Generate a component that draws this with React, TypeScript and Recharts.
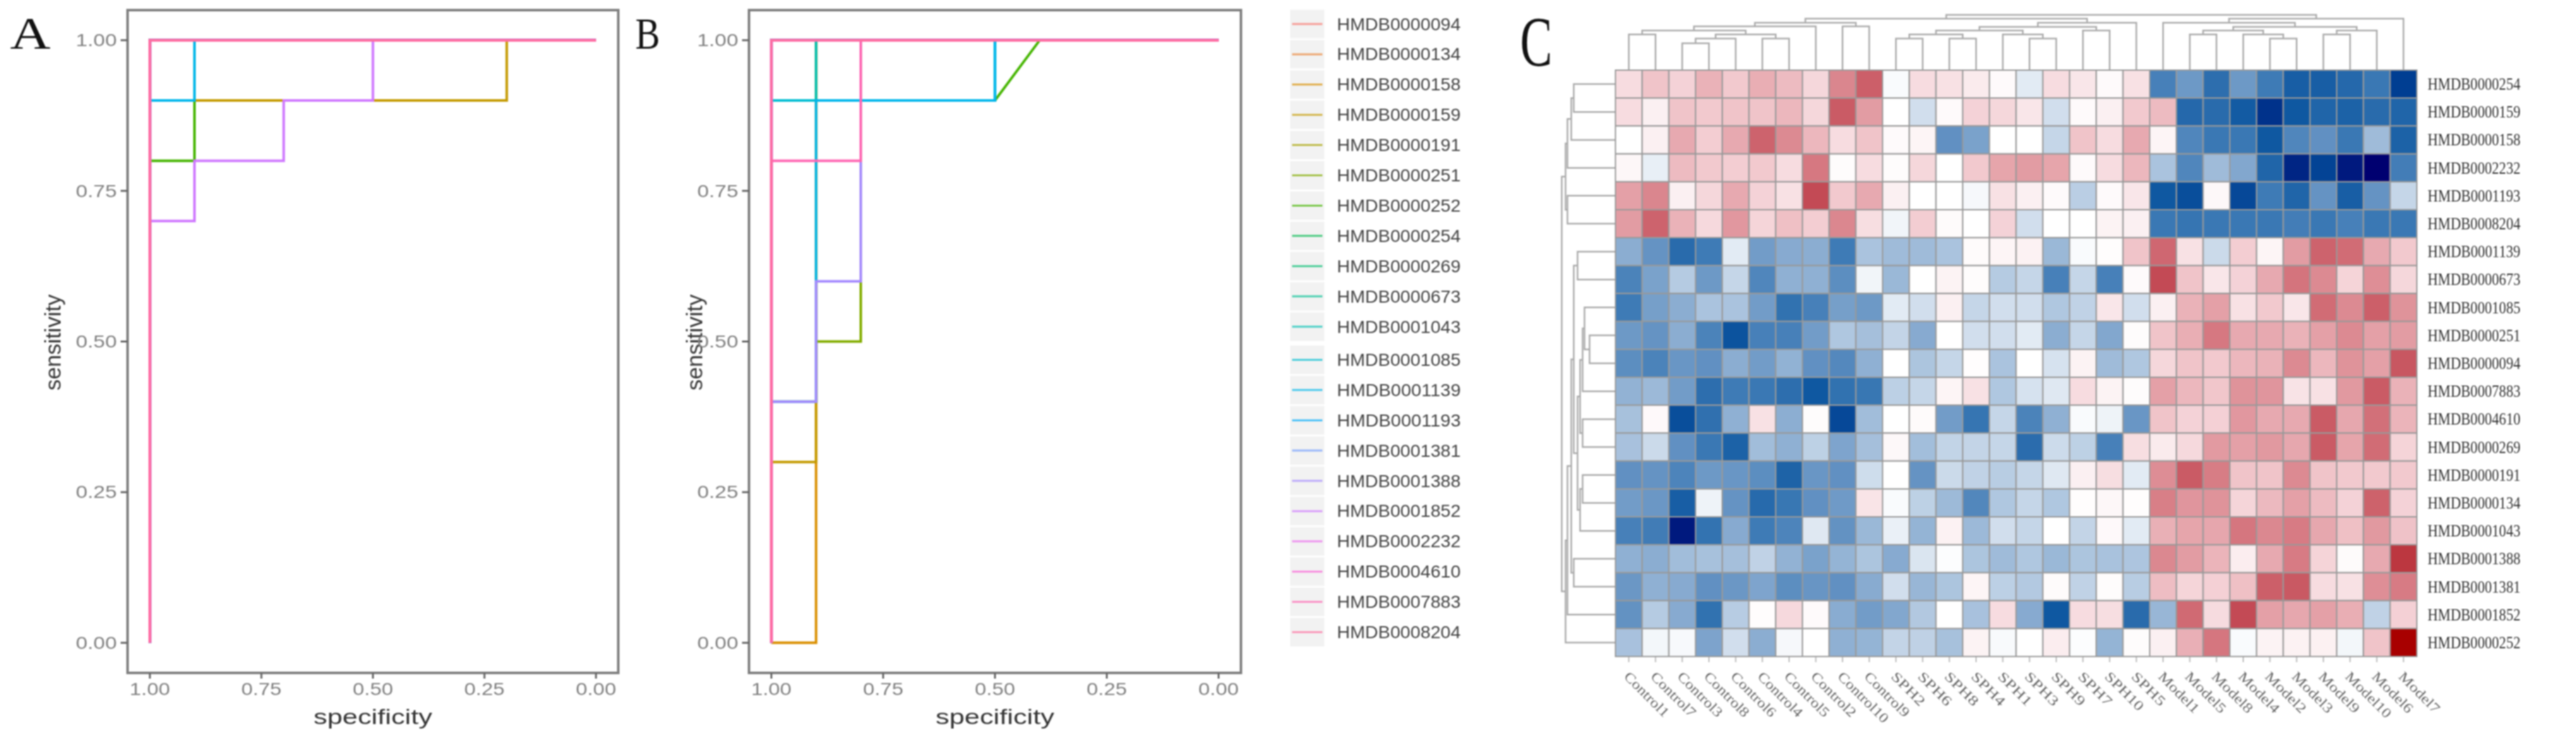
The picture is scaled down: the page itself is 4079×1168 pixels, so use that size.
import React from "react";
import {
  LineChart, Line, XAxis, YAxis, ReferenceArea, Legend, ScatterChart, Scatter, ComposedChart,
} from "recharts";

// ---------- ROC panels ----------
const seriesNames = [
  "HMDB0000094", "HMDB0000134", "HMDB0000158", "HMDB0000159", "HMDB0000191", "HMDB0000251", "HMDB0000252",
  "HMDB0000254", "HMDB0000269", "HMDB0000673", "HMDB0001043", "HMDB0001085", "HMDB0001139", "HMDB0001193",
  "HMDB0001381", "HMDB0001388", "HMDB0001852", "HMDB0002232", "HMDB0004610", "HMDB0007883", "HMDB0008204",
];
const seriesColors = [
  "#F8766D", "#EB8335", "#DA8F00", "#C49A00", "#A8A400", "#83AD00", "#45B500", "#00BB4E", "#00BE70", "#00C094",
  "#00C0B5", "#00BDD2", "#00B6EB", "#00ACFC", "#6E9BFF", "#A58AFF", "#CF78FF", "#EC69EF", "#FB61D7", "#FF65B2", "#FF6FA0",
];
const perfectCurve = [[1, 0], [1, 1], [0, 1]];
const rocA: Record<string, number[][]> = {
  HMDB0000159: [[1, 0], [1, 0.9], [0.2, 0.9], [0.2, 1], [0, 1]],
  HMDB0000252: [[1, 0], [1, 0.8], [0.9, 0.8], [0.9, 1], [0, 1]],
  HMDB0001139: [[1, 0], [1, 0.9], [0.9, 0.9], [0.9, 1], [0, 1]],
  HMDB0001852: [[1, 0], [1, 0.7], [0.9, 0.7], [0.9, 0.8], [0.7, 0.8], [0.7, 0.9], [0.5, 0.9], [0.5, 1], [0, 1]],
};
const rocB: Record<string, number[][]> = {
  HMDB0000158: [[1, 0], [0.9, 0], [0.9, 1], [0, 1]],
  HMDB0000159: [[1, 0], [1, 0.3], [0.9, 0.3], [0.9, 1], [0, 1]],
  HMDB0000251: [[1, 0], [1, 0.4], [0.9, 0.4], [0.9, 0.5], [0.8, 0.5], [0.8, 1], [0, 1]],
  HMDB0000252: [[1, 0], [1, 0.9], [0.5, 0.9], [0.4, 1], [0, 1]],
  HMDB0001043: [[1, 0], [1, 0.9], [0.9, 0.9], [0.9, 1], [0, 1]],
  HMDB0001085: [[1, 0], [1, 0.9], [0.5, 0.9], [0.5, 1], [0, 1]],
  HMDB0001139: [[1, 0], [1, 0.4], [0.9, 0.4], [0.9, 0.9], [0.5, 0.9], [0.5, 1], [0, 1]],
  HMDB0001388: [[1, 0], [1, 0.4], [0.9, 0.4], [0.9, 0.6], [0.8, 0.6], [0.8, 1], [0, 1]],
  HMDB0007883: [[1, 0], [1, 0.8], [0.8, 0.8], [0.8, 1], [0, 1]],
};
const rocTicks = [0, 0.25, 0.5, 0.75, 1];

// ---------- Heat map ----------
const colLabels = [
  "Control1", "Control7", "Control3", "Control8", "Control6", "Control4", "Control5", "Control2", "Control10", "Control9",
  "SPH2", "SPH6", "SPH8", "SPH4", "SPH1", "SPH3", "SPH9", "SPH7", "SPH10", "SPH5",
  "Model1", "Model5", "Model8", "Model4", "Model2", "Model3", "Model9", "Model10", "Model6", "Model7",
];
const rowLabels = [
  "HMDB0000254", "HMDB0000159", "HMDB0000158", "HMDB0002232", "HMDB0001193", "HMDB0008204", "HMDB0001139",
  "HMDB0000673", "HMDB0001085", "HMDB0000251", "HMDB0000094", "HMDB0007883", "HMDB0004610", "HMDB0000269",
  "HMDB0000191", "HMDB0000134", "HMDB0001043", "HMDB0001388", "HMDB0001381", "HMDB0001852", "HMDB0000252",
];
const heatValues = [
  [1.35, 1.6, 1.45, 1.8, 1.55, 1.85, 1.7, 1.4, 2.3, 2.75, 0.95, 1.35, 1.3, 1.2, 1.05, 0.75, 1.35, 1.25, 1.05, 1.3, -0.85, -0.4, -1.15, -0.4, -0.95, -1.4, -1.4, -1.25, -1, -1.75],
  [1.35, 1.15, 1.6, 1.55, 1.6, 1.6, 1.75, 1.4, 2.8, 2.05, 1, 0.6, 1.05, 1.45, 1.4, 1.25, 0.6, 1.05, 1.15, 1.55, 1.7, -1.25, -1.2, -1.45, -1.8, -1.5, -1.3, -1.35, -1.2, -1.3],
  [1, 1.15, 1.9, 1.5, 1.9, 2.7, 2.25, 1.75, 1.35, 1.6, 1.05, 1.1, -0.55, -0.25, 1, 1, 0.5, 1.6, 1.35, 1.9, 1.1, -0.75, -1, -1, -1.5, -0.75, -0.55, -1, 0.15, -1.35],
  [1.08, 0.8, 1.7, 1.55, 1.5, 1.55, 1.35, 2.45, 1.03, 1.35, 1.03, 1.4, 1, 1.55, 1.95, 2.05, 1.95, 1.05, 1.35, 1.75, 0.25, -0.75, 0.15, -0.15, -1.3, -1.85, -1.7, -1.9, -2, -0.9],
  [2, 2.3, 1.15, 1.4, 1.9, 1.45, 1.3, 3, 1.55, 1.9, 1.15, 1, 1, 0.92, 1.3, 1.15, 1.05, 0.4, 1.05, 1.25, -1.5, -1.6, 1.07, -1.65, -0.95, -1.3, -0.5, -1.4, -0.5, 0.5],
  [2.05, 2.7, 1.8, 1.38, 2.1, 1.42, 1.65, 1.5, 2.28, 1.33, 0.88, 1.5, 1.04, 1, 1.45, 0.6, 1, 1, 1.12, 1.15, -1, -1.05, -1, -1, -1, -0.9, -1, -0.85, -1, -1],
  [-0.05, -0.5, -1.2, -0.95, 0.75, -0.35, -0.1, -0.05, -0.95, 0.25, 0.15, 0.15, 0.25, 1.04, 1.1, 1.13, 0.1, 0.95, 1.02, 1.6, 2.65, 1.3, 0.55, 1.5, 1.1, 2.05, 2.7, 2.6, 1.9, 1.55],
  [-0.8, -0.25, 0.35, -0.4, 0.5, -0.75, 0, 0, -0.6, 0.88, 0.1, 1, 1.12, 1.03, 0.35, 0.5, -0.85, 0.5, -0.85, 1.05, 3, 1.6, 1.25, 1.45, 1.9, 2.5, 2.25, 1.43, 2.2, 1.4],
  [-0.95, -0.3, -0.05, 0.25, 0.25, -0.35, -1.1, -0.85, -0.3, -0.4, 0.75, 0.6, 1.15, 0.5, 0.6, 0.6, 0.3, 0.45, 1.25, 0.6, 1.15, 1.8, 2, 1.3, 1.55, 1.25, 2.6, 2.25, 2.75, 2.15],
  [-0.4, -0.5, -0.05, -0.8, -1.55, -0.85, -0.85, -0.35, 0.3, 0.2, 0.48, -0.1, 1, 0.6, 0.6, 0.75, -0.05, 0.5, -0.15, 1.03, 1.6, 1.85, 2.45, 1.9, 1.9, 1.8, 2, 2.25, 2, 2.05],
  [-0.6, -0.8, -0.45, -0.55, -0.05, -0.35, 0.02, -0.55, -0.7, 0, 1, 0.27, 0.5, 1.02, 0.25, 1, 0.65, 1.12, 0.15, 0.3, 1.4, 1.6, 1.55, 1.75, 1.8, 2.25, 1.75, 2.15, 2, 2.85],
  [0.03, 0.12, -0.35, -1.15, -0.95, -1, -1.15, -1.5, -1.1, -1.02, 0.42, 0.5, 1.1, 1.3, 0.3, 0.65, 0.72, 1.35, 1.12, 1.03, 2, 1.75, 1.58, 2.15, 2.12, 1.28, 1.3, 2.08, 2.8, 1.8],
  [0.22, 1.06, -1.6, -1.12, 0, 1.3, -0.03, 1.03, -1.65, 0.17, 1, 1.04, -0.35, -1.05, 0.5, -0.8, 0, 0.95, 0.85, -0.45, 1.6, 1.45, 1.47, 2.1, 1.9, 1.9, 2.8, 1.92, 2.55, 1.78],
  [0.23, 0.55, -0.55, -1, -1.35, 0.17, 0, 0.43, -0.2, 0.2, 1.07, 0.18, 0.47, 0.48, 0.5, -1.18, 0.56, 0.43, -0.85, 1.33, 1.2, 1.38, 2.07, 2, 2.08, 1.92, 2.8, 1.95, 2.6, 1.43],
  [-0.55, -0.5, -0.78, -0.4, -0.45, -0.6, -1.33, -0.45, -0.55, 0.58, 1, -0.5, 0.55, 0.45, 0.38, 0.5, 0.72, 1.15, 1.33, 0.75, 2.22, 2.8, 2.4, 1.6, 1.6, 2.25, 1.6, 1.55, 1.55, 1.55],
  [-0.35, -0.43, -1.4, 0.85, -0.5, -1.22, -1.02, -0.55, -0.38, 1.27, 0.95, 0.43, 0.13, -0.72, 0.3, 0.5, 0.3, 1.02, 1.08, 1.02, 2.38, 2.12, 2.15, 1.42, 1.72, 2, 1.7, 1.45, 2.72, 1.45],
  [-0.85, -0.92, -1.9, -1.08, -0.1, -0.95, -0.78, 0.72, -0.52, 0.1, 0.82, 0.05, 1.13, 0.12, 0.6, 0.5, 1, 0.48, 1.06, 0.75, 1.82, 1.95, 1.93, 2.48, 2.27, 2.42, 1.92, 1.65, 2.08, 1.62],
  [0, -0.05, 0.17, 0.22, 0.2, 0.45, 0.03, -0.25, 0.05, 0.27, -0.1, 0.68, 0.97, 0.27, 0.15, 0.3, 0.1, 0.27, 0.24, 0.28, 2.27, 2.05, 1.78, 1.18, 1.9, 2.42, 1.43, 1.04, 1.9, 3.1],
  [-0.43, 0, -0.1, -0.55, -0.43, -0.2, -0.6, -0.47, -0.55, -0.08, 0.6, 0.08, 0.27, 1.1, 0.42, 0.33, 1.04, 0.45, 1.03, 0.38, 1.68, 1.42, 1.47, 1.65, 2.75, 2.82, 1.35, 1.3, 2.2, 2.42],
  [-0.52, 0.35, -0.1, -1.1, 0.37, 1.02, 1.38, 1.05, -0.07, -0.35, -0.15, 0.32, 1, 0.23, 1.35, -0.1, -1.5, 1.35, 1.33, -1.2, 0.08, 2.62, 1.36, 3, 2, 1.92, 2, 1.85, 0.45, 1.47],
  [0.23, 0.9, 0.93, -0.22, 0.6, -0.05, 0.92, 1, 0, 0.05, 0.48, 0.44, 0.22, 1.12, 0.94, 1, 1.18, 0.97, 0.05, 1.03, 1.15, 1.83, 2.48, 0.95, 1.12, 1.13, 1.14, 0.9, 1.6, 3.4],
];
const rampStops: [number, string][] = [
  [-2, "#000070"], [-1.75, "#003e92"], [-1.5, "#0f58a1"], [-1, "#3a78b4"], [-0.5, "#6593c3"], [0, "#8fb0d3"],
  [0.5, "#c5d6e8"], [1, "#ffffff"], [1.5, "#f3cdd2"], [2, "#e4a0a7"], [2.5, "#d4747d"], [3, "#c34a55"], [3.4, "#a80000"],
];
const colorbarDomain = [-1.25, 3.28];
const colorbarTicks = [-1, 0, 1, 2, 3];

// Dendrograms: a leaf is a column/row index, a node is [left, right, merge height].
const colTree: any = [
  [
    [[[[0, 1, 56.6], [[[2, 3, 42.5], 4, 50], [5, 6, 50], 56.6], 62.8], 7, 69.3], [8, 9, 69.3], 75],
    [[[[[10, 11, 50], [12, 13, 50], 56.6], [14, [15, 16, 50], 56.6], 62.8], [17, 18, 62.8], 68.5], 19, 75],
    81.5,
  ],
  [
    [20, [[[21, 22, 56.6], [23, [24, 25, 50], 56.6], 62.8], [[26, 27, 56.6], 28, 62.8], 68.5], 75],
    29,
    81.5,
  ],
  87.6,
];
const rowTree: any = [
  [[[[0, 1, 66], 2, 70], 3, 76], [4, 5, 76], 79],
  [
    [
      [
        [
          [6, 7, 60],
          [[[[8, [9, 10, 41], 49], 11, 52], [12, 13, 52], 56], [[14, 15, 52], 16, 56], 60],
          66,
        ],
        [17, 18, 66],
        70,
      ],
      19,
      76,
    ],
    20,
    79,
  ],
  85,
];

type Seg = { a: number; b: number }[];
function walk(node: any, out: Seg[]): { pos: number; h: number } {
  if (typeof node === "number") return { pos: node + 0.5, h: 0 };
  const l = walk(node[0], out);
  const r = walk(node[1], out);
  const h = node[2];
  out.push([{ a: l.pos, b: l.h }, { a: l.pos, b: h }, { a: r.pos, b: h }, { a: r.pos, b: r.h }]);
  return { pos: (l.pos + r.pos) / 2, h };
}
const segsOf = (tree: any) => {
  const out: Seg[] = [];
  walk(tree, out);
  return out;
};

function hexToRgb(h: string) {
  return [1, 3, 5].map((i) => parseInt(h.slice(i, i + 2), 16));
}
function heatColor(v: number) {
  if (v <= rampStops[0][0]) return rampStops[0][1];
  for (let i = 1; i < rampStops.length; i++) {
    if (v <= rampStops[i][0]) {
      const [v0, c0] = rampStops[i - 1];
      const [v1, c1] = rampStops[i];
      const t = (v - v0) / (v1 - v0);
      const a = hexToRgb(c0), b = hexToRgb(c1);
      return `rgb(${a.map((x, k) => Math.round(x + (b[k] - x) * t)).join(",")})`;
    }
  }
  return rampStops[rampStops.length - 1][1];
}

const SANS = "'Liberation Sans', Arial, sans-serif";
const SERIF = "'Liberation Serif', 'Times New Roman', serif";

const xTick = (p: any) => (
  <text x={p.x} y={p.y + 14} textAnchor="middle" dominantBaseline="central" fontFamily={SANS} fontSize={28} fill="#808080"
    textLength={64} lengthAdjust="spacingAndGlyphs">{Number(p.payload.value).toFixed(2)}</text>
);
const yTick = (p: any) => (
  <text x={p.x - 4} y={p.y} textAnchor="end" dominantBaseline="central" fontFamily={SANS} fontSize={28} fill="#808080"
    textLength={65} lengthAdjust="spacingAndGlyphs">{Number(p.payload.value).toFixed(2)}</text>
);
const xTitle = (p: any) => (
  <text x={p.viewBox.x + p.viewBox.width / 2} y={p.viewBox.y + 69} textAnchor="middle" dominantBaseline="central" fontFamily={SANS}
    fontSize={33} fill="#333" textLength={188} lengthAdjust="spacingAndGlyphs">specificity</text>
);
const yTitle = (cx: number, cy: number) => () => (
  <text x={cx} y={cy} transform={`rotate(-90 ${cx} ${cy})`} textAnchor="middle" dominantBaseline="central" fontFamily={SANS}
    fontSize={35} fill="#333" textLength={152} lengthAdjust="spacingAndGlyphs">sensitivity</text>
);

const legendRowY = (i: number) => 38 + i * 47.9 + (i >= 11 ? 4.5 : 0);
const LegendContent = (props: any) => (
  <svg width={365} height={1168} style={{ display: "block" }}>
    {(props.payload || []).map((e: any, i: number) => (
      <g key={e.value}>
        <rect x={1053 - 975} y={legendRowY(i) - 22.5} width={54} height={45} fill="#f2f2f2" />
        <line x1={1056 - 975} x2={1104 - 975} y1={legendRowY(i)} y2={legendRowY(i)} stroke={e.color} strokeWidth={3} strokeOpacity={0.7} />
        <text x={1127 - 975} y={legendRowY(i)} dominantBaseline="central" fontFamily={SANS} fontSize={28} fill="#444"
          textLength={196} lengthAdjust="spacingAndGlyphs">{e.value}</text>
      </g>
    ))}
  </svg>
);

function RocChart(props: { left: number; width: number; axisWidth: number; marginRight: number; curves: Record<string, number[][]>; titleX: number; withLegend?: boolean }) {
  const { left, width, axisWidth, marginRight, curves, titleX, withLegend } = props;
  return (
    <div style={{ position: "absolute", left, top: 0 }}>
      <LineChart width={width} height={1168} margin={{ top: 16, right: marginRight, bottom: 0, left: 0 }}>
        <XAxis type="number" dataKey="x" reversed domain={[-0.05, 1.05]} ticks={rocTicks} interval={0} height={103}
          axisLine={false} tickSize={9} tickLine={{ stroke: "#666", strokeWidth: 3 }} tick={xTick} label={{ content: xTitle }} />
        <YAxis type="number" domain={[-0.05, 1.05]} ticks={rocTicks} interval={0} width={axisWidth}
          axisLine={false} tickSize={11} tickLine={{ stroke: "#666", strokeWidth: 3 }} tick={yTick} label={{ content: yTitle(titleX, 542) }} />
        {withLegend && <Legend layout="vertical" align="right" verticalAlign="top" wrapperStyle={{ top: 0, right: 0, width: 365 }} content={LegendContent} />}
        <ReferenceArea x1={-0.05} x2={1.05} y1={-0.05} y2={1.05} fill="none" stroke="#7f7f7f" strokeWidth={4} />
        {seriesNames.map((name, i) => (
          <Line key={name} name={name} dataKey="y" stroke={seriesColors[i]} strokeWidth={4} dot={false} isAnimationActive={false}
            data={(curves[name] || perfectCurve).map(([x, y]) => ({ x, y }))} />
        ))}
      </LineChart>
    </div>
  );
}

const colLabelLen = (s: string) => {
  if (s.startsWith("Control")) return s.length > 8 ? 104 : 91;
  if (s.startsWith("SPH")) return s.length > 4 ? 77 : 66;
  return s.length > 6 ? 93 : 82;
};

const CELL_W = 42.3;
const CELL_H = 44.2;
const heatData = heatValues.flatMap((row, r) => row.map((v, c) => ({ x: c + 0.5, y: r + 0.5, v })));
const cellShape = (p: any) => (
  <rect x={p.cx - CELL_W / 2} y={p.cy - CELL_H / 2} width={CELL_W} height={CELL_H} fill={heatColor(p.payload.v)} stroke="#999" strokeWidth={2} />
);
const colTick = (p: any) => {
  const name = colLabels[Math.floor(p.payload.value)];
  const x = p.x - 9, y = p.y + 22;
  return (
    <text x={x} y={y} transform={`rotate(45 ${x} ${y})`} fontFamily={SERIF} fontSize={22} fill="#666"
      textLength={colLabelLen(name)} lengthAdjust="spacingAndGlyphs">{name}</text>
  );
};
const rowTick = (p: any) => (
  <text x={1344} y={p.y} dominantBaseline="central" fontFamily={SERIF} fontSize={27} fill="#333"
    textLength={147} lengthAdjust="spacingAndGlyphs">{rowLabels[Math.floor(p.payload.value)]}</text>
);
const colCenters = colLabels.map((_, i) => i + 0.5);
const rowCenters = rowLabels.map((_, i) => i + 0.5);

const barTick = (p: any) => (
  <text x={p.x} y={p.y} dominantBaseline="central" fontFamily={SERIF} fontSize={24} fill="#222"
    textLength={String(p.payload.value).length > 1 ? 19 : 10} lengthAdjust="spacingAndGlyphs">{p.payload.value}</text>
);

const DENDRO = { stroke: "#aaaaaa", strokeWidth: 2.5, dot: false, isAnimationActive: false, legendType: "none" as const };

export default function App() {
  const topSegs = segsOf(colTree);
  const leftSegs = segsOf(rowTree);
  return (
    <div style={{ position: "absolute", left: 0, top: 0, width: 4079, height: 1168, background: "#fff", overflow: "hidden", filter: "blur(1px)" }}>
      <RocChart left={0} width={1000} axisWidth={202} marginRight={21} curves={rocA} titleX={83} />
      <RocChart left={990} width={1340} axisWidth={196} marginRight={0} curves={rocB} titleX={1096 - 990 + 3} withLegend />

      {/* top dendrogram */}
      <div style={{ position: "absolute", left: 2558, top: 15 }}>
        <LineChart width={1269} height={96} margin={{ top: 0, right: 0, bottom: 0, left: 0 }}>
          <XAxis type="number" dataKey="a" domain={[0, 30]} hide />
          <YAxis type="number" domain={[0, 96]} hide />
          {topSegs.map((s, i) => <Line key={i} data={s} dataKey="b" {...DENDRO} />)}
        </LineChart>
      </div>
      {/* left dendrogram */}
      <div style={{ position: "absolute", left: 2458, top: 111 }}>
        <LineChart width={100} height={928} margin={{ top: 0, right: 0, bottom: 0, left: 0 }}>
          <XAxis type="number" dataKey="b" domain={[0, 100]} reversed hide />
          <YAxis type="number" domain={[0, 21]} reversed hide />
          {leftSegs.map((s, i) => <Line key={i} data={s} dataKey="a" {...DENDRO} />)}
        </LineChart>
      </div>
      {/* heat map */}
      <div style={{ position: "absolute", left: 2500, top: 0 }}>
        <ScatterChart width={1579} height={1168} margin={{ top: 111, right: 0, bottom: 0, left: 58 }}>
          <XAxis type="number" dataKey="x" domain={[0, 30]} ticks={colCenters} interval={0} height={129}
            axisLine={false} tickSize={9} tickLine={{ stroke: "#bbb", strokeWidth: 2 }} tick={colTick} />
          <YAxis type="number" dataKey="y" orientation="right" reversed domain={[0, 21]} ticks={rowCenters} interval={0} width={252}
            axisLine={false} tickLine={false} tick={rowTick} />
          <Scatter data={heatData} shape={cellShape} isAnimationActive={false} />
        </ScatterChart>
      </div>
      {/* colour bar */}
      <div style={{ position: "absolute", left: 4000, top: 430 }}>
        <ComposedChart width={79} height={200} margin={{ top: 12, right: 0, bottom: 10, left: 15 }}>
          <defs>
            <linearGradient id="heatBar" x1="0" y1="1" x2="0" y2="0">
              {rampStops.filter(([v]) => v >= colorbarDomain[0] && v <= colorbarDomain[1]).map(([v, c]) => (
                <stop key={v} offset={(v - colorbarDomain[0]) / (colorbarDomain[1] - colorbarDomain[0])} stopColor={c} />
              ))}
            </linearGradient>
          </defs>
          <XAxis type="number" domain={[0, 1]} hide />
          <YAxis type="number" orientation="right" domain={colorbarDomain} ticks={colorbarTicks} interval={0} width={37}
            axisLine={false} tickLine={false} tickMargin={4} tick={barTick} />
          <ReferenceArea x1={0} x2={1} y1={colorbarDomain[0]} y2={colorbarDomain[1]} fill="url(#heatBar)" fillOpacity={1} stroke="none" />
        </ComposedChart>
      </div>

      {/* panel letters */}
      <svg width={4079} height={1168} style={{ position: "absolute", left: 0, top: 0, pointerEvents: "none" }}>
        <text x={16} y={77} fontFamily={SERIF} fontSize={72} fill="#111" textLength={64} lengthAdjust="spacingAndGlyphs">A</text>
        <text x={1006} y={77} fontFamily={SERIF} fontSize={70} fill="#111" textLength={39} lengthAdjust="spacingAndGlyphs">B</text>
        <text x={2407} y={104} fontFamily={SERIF} fontSize={112} fill="#111" textLength={51} lengthAdjust="spacingAndGlyphs">C</text>
      </svg>
    </div>
  );
}
